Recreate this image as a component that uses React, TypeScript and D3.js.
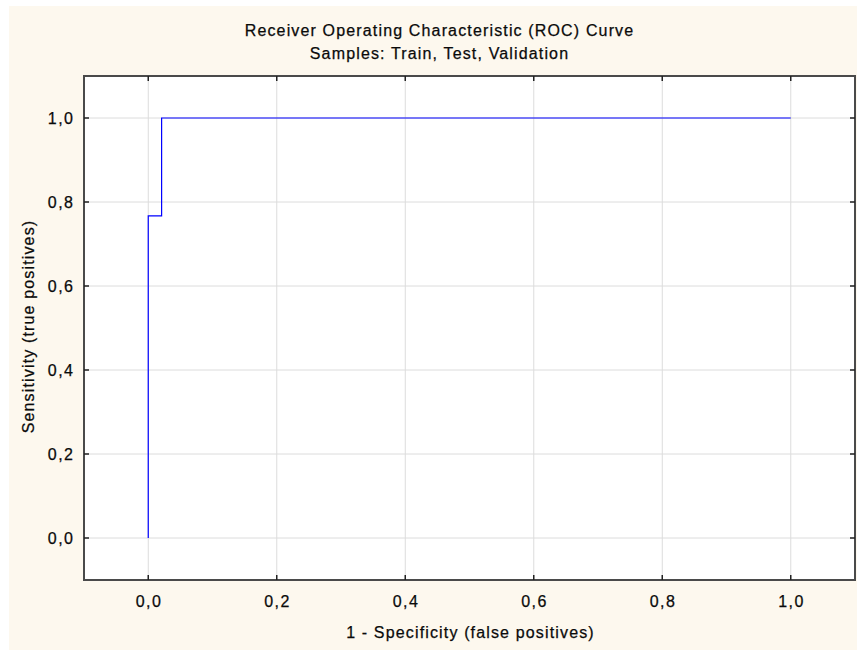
import React from "react";
import * as d3 from "d3";

// ROC curve points (1 - specificity, sensitivity)
const falsePositiveRate = [0, 0, 0.0208, 0.0208, 1];
const truePositiveRate = [0, 0.767, 0.767, 1, 1];
const tickValues = [0, 0.2, 0.4, 0.6, 0.8, 1.0];
const titleLines = [
  "Receiver Operating Characteristic (ROC) Curve",
  "Samples: Train, Test, Validation",
];
const xLabel = "1 - Specificity (false positives)";
const yLabel = "Sensitivity (true positives)";

const W = 857;
const H = 650;
const plot = { left: 84, right: 855, top: 76, bottom: 580 };
const font = "'Liberation Sans', Arial, sans-serif";
const ls = 1.15;
const ink = "#0a0a0a";
const fmt = (v: number) => d3.format(".1f")(v).replace(".", ",");

export default function App() {
  const x = d3.scaleLinear().domain([-0.1, 1.1]).range([plot.left, plot.right]);
  const y = d3.scaleLinear().domain([-0.1, 1.1]).range([plot.bottom, plot.top]);
  const pts: [number, number][] = falsePositiveRate.map((f, i) => [f, truePositiveRate[i]]);
  const line = d3
    .line<[number, number]>()
    .x((d) => x(d[0]))
    .y((d) => y(d[1]));
  const tl = 5;
  const textStyle = { stroke: ink, strokeWidth: 0.25 };

  return (
    <svg
      width={W}
      height={H}
      style={{ position: "absolute", left: 0, top: 0, display: "block" }}
    >
      <rect x={0} y={0} width={W} height={H} fill="#ffffff" />
      <rect x={9} y={6} width={W - 9} height={H - 6} fill="#fdf8ee" />
      <rect
        x={plot.left}
        y={plot.top}
        width={plot.right - plot.left}
        height={plot.bottom - plot.top}
        fill="#ffffff"
      />
      {/* grid */}
      {tickValues.map((t) => (
        <g key={"g" + t}>
          <line x1={x(t)} x2={x(t)} y1={plot.top} y2={plot.bottom} stroke="#dcdcdc" strokeWidth={1} />
          <line x1={plot.left} x2={plot.right} y1={y(t)} y2={y(t)} stroke="#dcdcdc" strokeWidth={1} />
        </g>
      ))}
      {/* curve */}
      <path d={line(pts) || ""} fill="none" stroke="#0000ff" strokeWidth={1.2} />
      {/* frame */}
      <rect
        x={plot.left}
        y={plot.top}
        width={plot.right - plot.left}
        height={plot.bottom - plot.top}
        fill="none"
        stroke="#4a4a4a"
        strokeWidth={2}
      />
      {/* inward ticks */}
      {tickValues.map((t) => (
        <g key={"t" + t} stroke="#222" strokeWidth={1.5}>
          <line x1={x(t)} x2={x(t)} y1={plot.bottom} y2={plot.bottom - tl} />
          <line x1={x(t)} x2={x(t)} y1={plot.top} y2={plot.top + tl} />
          <line x1={plot.left} x2={plot.left + tl} y1={y(t)} y2={y(t)} />
          <line x1={plot.right} x2={plot.right - tl} y1={y(t)} y2={y(t)} />
        </g>
      ))}
      {/* tick labels */}
      {tickValues.map((t) => (
        <g key={"l" + t} fontFamily={font} fontSize={16} fill={ink} letterSpacing={1.5} style={textStyle}>
          <text x={x(t) + 0.75} y={607} textAnchor="middle">
            {fmt(t)}
          </text>
          <text x={74.5} y={y(t) + 6} textAnchor="end">
            {fmt(t)}
          </text>
        </g>
      ))}
      {/* titles */}
      <g fontFamily={font} fontSize={16} fill={ink} textAnchor="middle" letterSpacing={ls} style={textStyle}>
        <text x={439.5} y={36}>{titleLines[0]}</text>
        <text x={439.5} y={59}>{titleLines[1]}</text>
      </g>
      <text
        x={470.5}
        y={638}
        textAnchor="middle"
        fontFamily={font}
        fontSize={16}
        fill={ink}
        letterSpacing={ls}
        style={textStyle}
      >
        {xLabel}
      </text>
      <text
        transform={`translate(33.5,326.5) rotate(-90)`}
        textAnchor="middle"
        fontFamily={font}
        fontSize={16}
        fill={ink}
        letterSpacing={ls}
        style={textStyle}
      >
        {yLabel}
      </text>
    </svg>
  );
}
